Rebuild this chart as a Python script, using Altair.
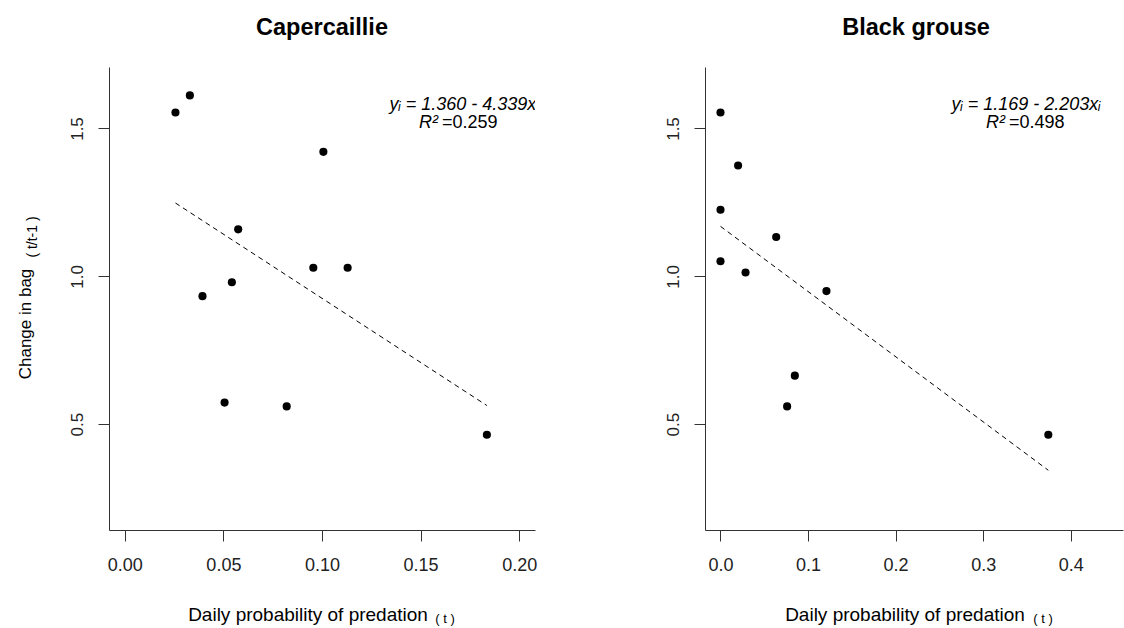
import altair as alt
import pandas as pd

# ---- data ----
cap_x = [0.0257, 0.0330, 0.0394, 0.0506, 0.0543, 0.0575, 0.0821, 0.0956, 0.1007, 0.1130, 0.1836]
cap_y = [1.554, 1.612, 0.933, 0.573, 0.980, 1.159, 0.560, 1.029, 1.421, 1.029, 0.464]
bg_x = [0.0, 0.0201, 0.0, 0.0636, 0.0, 0.0286, 0.1210, 0.0849, 0.0761, 0.3744]
bg_y = [1.554, 1.375, 1.225, 1.133, 1.051, 1.013, 0.950, 0.664, 0.560, 0.464]
cap_fit_x = [0.0257, 0.1836]
cap_fit_y = [1.248, 0.563]
bg_fit_x = [0.0, 0.3744]
bg_fit_y = [1.169, 0.344]
cap_xticks = [0.0, 0.05, 0.10, 0.15, 0.20]
bg_xticks = [0.0, 0.1, 0.2, 0.3, 0.4]
yticks = [0.5, 1.0, 1.5]
cap_xdomain = [-0.008, 0.208]
bg_xdomain = [-0.0177, 0.4597]
ydomain = [0.142, 1.708]
titles = ["Capercaillie", "Black grouse"]
eq1 = ["y\u1d62 = 1.360 - 4.339x\u1d62", "y\u1d62 = 1.169 - 2.203x\u1d62"]
r2 = ["=0.259", "=0.498"]
xlab = "Daily probability of predation"
xsub = "( t )"
ylab = "Change in bag"
ysub = "( t/t-1 )"

FONT = "Liberation Sans"
one = pd.DataFrame({"k": [0]})


def txt(text, x, y, size, **kw):
    return alt.Chart(one).mark_text(text=text, font=FONT, fontSize=size, color="black", **kw).encode(
        x=alt.value(x), y=alt.value(y))


def panel(xs, ys, fx, fy, xdom, xticks, xfmt, w, i, eq_cx, r2_x, title_x, xl_x, xs_x, left):
    h = 463
    X = alt.X("x:Q", scale=alt.Scale(domain=xdom, nice=False, zero=False),
              axis=alt.Axis(values=xticks, format=xfmt, title=None))
    Y = alt.Y("y:Q", scale=alt.Scale(domain=ydomain, nice=False, zero=False),
              axis=alt.Axis(values=yticks, format=".1f", title=None))
    pts = alt.Chart(pd.DataFrame({"x": xs, "y": ys})).mark_circle(
        size=66, color="black", opacity=1).encode(x=X, y=Y)
    fit = alt.Chart(pd.DataFrame({"x": fx, "y": fy})).mark_line(
        color="black", strokeDash=[5, 4], strokeWidth=1).encode(x=X, y=Y)
    layers = []
    if left:
        layers.append(alt.Chart(one).mark_rect(opacity=0).encode(
            x=alt.value(-109), x2=alt.value(1015), y=alt.value(-67), y2=alt.value(561)))
    layers += [fit, pts,
               txt(titles[i], title_x, -39, 23.5, fontWeight="bold", align="center"),
               txt(xlab, xl_x, 548, 19, align="center"),
               txt(xsub, xs_x, 552, 13, align="center"),
               txt(eq1[i], eq_cx, 38, 18, fontStyle="italic", align="center", clip=True),
               txt("R\u00b2", r2_x, 56, 18, fontStyle="italic", align="right"),
               txt(r2[i], r2_x + 4, 56, 18, align="left")]
    if left:
        layers += [txt(ylab, -83, 257, 17, angle=270, align="center"),
                   txt(ysub, -76, 170, 14, angle=270, align="center")]
    return alt.layer(*layers).properties(width=w, height=h)


p1 = panel(cap_x, cap_y, cap_fit_x, cap_fit_y, cap_xdomain, cap_xticks, ".2f", 426, 0,
           355, 329, 213, 199, 336, True)
p2 = panel(bg_x, bg_y, bg_fit_x, bg_fit_y, bg_xdomain, bg_xticks, ".1f", 418, 1,
           321, 300, 211, 200, 338, False)

chart = alt.hconcat(p1, p2, spacing=170, bounds="flush").properties(
    padding=0, background="white"
).configure_view(stroke=None).configure_axis(
    grid=False, domainColor="#333", tickColor="#333", domainWidth=1, tickWidth=1,
    labelFont=FONT, labelColor="#222", tickSize=11, labelFlush=False, labelOverlap=False
).configure_axisX(
    labelFontSize=18, labelPadding=15
).configure_axisY(
    labelFontSize=17, labelAngle=270, labelAlign="center", labelBaseline="bottom", labelPadding=12
)

chart.save("out.html", embed_options={"renderer": "svg", "actions": False})
